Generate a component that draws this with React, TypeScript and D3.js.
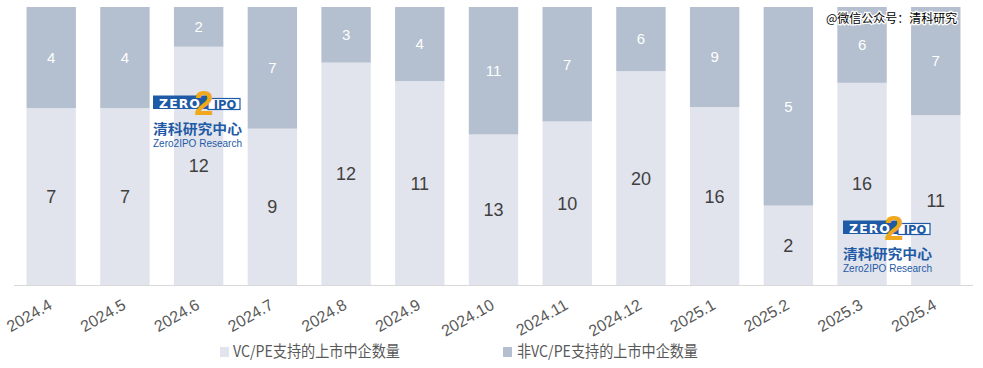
import React from "react";
import * as d3 from "d3";

const categories = ["2024.4","2024.5","2024.6","2024.7","2024.8","2024.9","2024.10","2024.11","2024.12","2025.1","2025.2","2025.3","2025.4"];
const vcpe = [7,7,12,9,12,11,13,10,20,16,2,16,11];
const nonVcpe = [4,4,2,7,3,4,11,7,6,9,5,6,7];
const seriesNames = ["VC/PE支持的上市中企数量","非VC/PE支持的上市中企数量"];

const W = 983, H = 368;
const LIGHT = "#E1E4ED";
const DARK = "#B4BFCF";
const FONT = "'Liberation Sans', Arial, 'Noto Sans CJK SC', sans-serif";

function Logo({ x, y }: { x: number; y: number }) {
  return (
    <g transform={`translate(${x},${y})`}>
      <rect x={0} y={6.5} width={55} height={13.5} fill="#1F5AA6" />
      <text x={27} y={18.5} textAnchor="middle" fill="#fff" fontSize={12.5} fontWeight="bold" fontFamily="'DejaVu Sans', sans-serif" letterSpacing={1}>ZERO</text>
      <rect x={55} y={9.5} width={32} height={11} fill="#fff" stroke="#1F5AA6" strokeWidth={1.2} />
      <text x={72} y={19.5} textAnchor="middle" fill="#1F5AA6" fontSize={11.5} fontWeight="bold" fontFamily="'DejaVu Sans', sans-serif">IPO</text>
      <text x={51} y={26} textAnchor="middle" fill="#F0A81C" fontSize={35} fontWeight="bold" fontFamily="'Liberation Sans', sans-serif">2</text>
      <text x={0} y={45} fill="#1F5AA6" fontSize={13.5} fontWeight="bold" fontFamily="'Noto Sans CJK SC', sans-serif" textLength={89} lengthAdjust="spacingAndGlyphs">清科研究中心</text>
      <text x={0} y={57.5} fill="#1F5AA6" fontSize={10} fontFamily="'Liberation Sans', Arial, sans-serif" textLength={89} lengthAdjust="spacingAndGlyphs">Zero2IPO Research</text>
    </g>
  );
}

export default function App() {
  const left = 14, right = 973, top = 7, bottom = 285;
  const x = d3.scaleBand<string>().domain(categories).range([left, right]).paddingInner(0.33).paddingOuter(0.17);
  const y = d3.scaleLinear().domain([0, 1]).range([bottom, top]);
  const rows = categories.map((c, i) => {
    const total = vcpe[i] + nonVcpe[i];
    return { c, a: vcpe[i], b: nonVcpe[i], pa: vcpe[i] / total };
  });
  const bw = x.bandwidth();
  return (
    <svg width={W} height={H} style={{ position: "absolute", left: 0, top: 0, background: "#fff" }} fontFamily={FONT}>
      {rows.map((r) => {
        const x0 = x(r.c)!;
        const yA = y(r.pa);
        return (
          <g key={r.c}>
            <rect x={x0} y={yA} width={bw} height={bottom - yA} fill={LIGHT} />
            <rect x={x0} y={y(1)} width={bw} height={yA - y(1)} fill={DARK} />
            <text x={x0 + bw / 2} y={(yA + bottom) / 2} dy="0.36em" textAnchor="middle" fontSize={18} fill="#404040">{r.a}</text>
            <text x={x0 + bw / 2} y={(yA + y(1)) / 2} dy="0.36em" textAnchor="middle" fontSize={15} fill="#fff">{r.b}</text>
          </g>
        );
      })}
      <line x1={left} x2={right} y1={bottom + 0.5} y2={bottom + 0.5} stroke="#D9D9D9" strokeWidth={1} />
      {categories.map((c) => (
        <text key={c} transform={`translate(${x(c)! + bw / 2 + 2},${bottom + 23}) rotate(-30)`} textAnchor="end" fontSize={16} fill="#595959">{c}</text>
      ))}
      <rect x={220} y={347} width={9} height={10} fill={LIGHT} />
      <text x={233} y={357} fontSize={15.5} fill="#595959" fontFamily="'Noto Sans CJK SC', sans-serif" textLength={167} lengthAdjust="spacingAndGlyphs">{seriesNames[0]}</text>
      <rect x={503} y={347} width={9} height={10} fill={DARK} />
      <text x={517} y={357} fontSize={15.5} fill="#595959" fontFamily="'Noto Sans CJK SC', sans-serif" textLength={181} lengthAdjust="spacingAndGlyphs">{seriesNames[1]}</text>
      <Logo x={153} y={89} />
      <Logo x={843} y={214} />
      <text x={826} y={23} fontSize={12} fill="#000" stroke="#fff" strokeWidth={2.5} paintOrder="stroke" fontFamily="'Noto Sans CJK SC', sans-serif">@微信公众号：清科研究</text>
    </svg>
  );
}
